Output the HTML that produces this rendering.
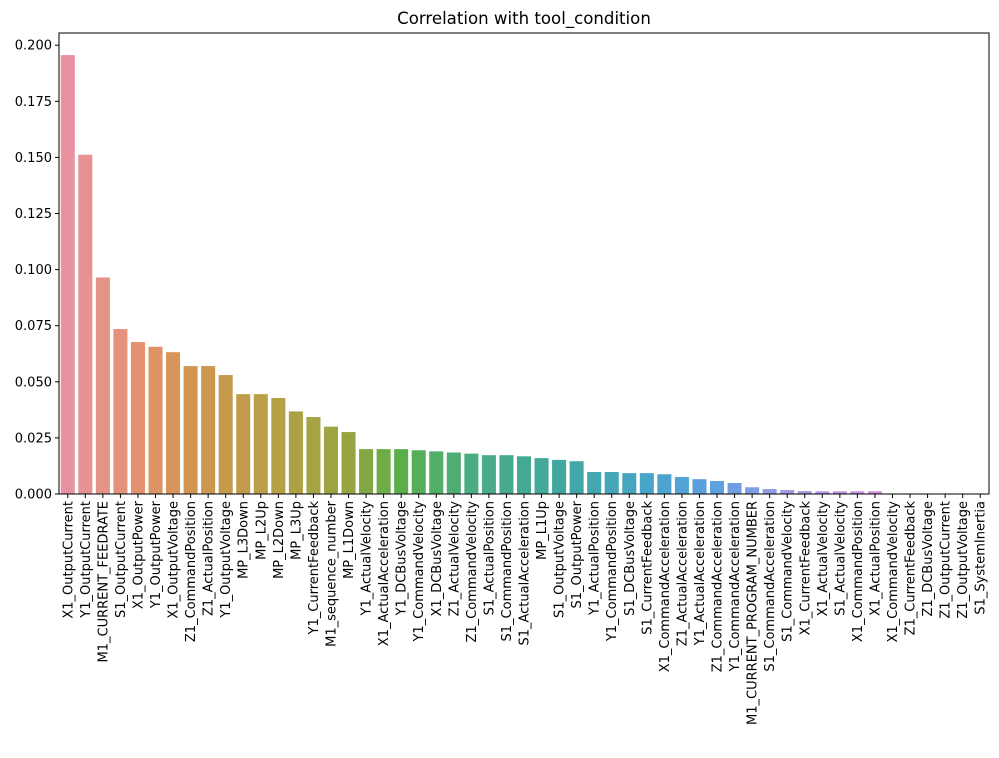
<!DOCTYPE html>
<html><head><meta charset="utf-8"><style>
body{margin:0;background:#fff}
svg text{font-family:"DejaVu Sans","Liberation Sans",sans-serif;fill:#000}
</style></head><body>
<svg id="chart" width="999" height="753" xmlns="http://www.w3.org/2000/svg">
<text x="524" y="24" font-size="16.6" text-anchor="middle">Correlation with tool_condition</text>
<g id="bars"></g><g id="yaxis"></g><g id="xaxis"></g>
<rect x="59" y="33" width="930" height="461" fill="none" stroke="#000" stroke-width="1"/>
</svg>
<script>
const categories=["X1_OutputCurrent","Y1_OutputCurrent","M1_CURRENT_FEEDRATE","S1_OutputCurrent","X1_OutputPower","Y1_OutputPower","X1_OutputVoltage","Z1_CommandPosition","Z1_ActualPosition","Y1_OutputVoltage","MP_L3Down","MP_L2Up","MP_L2Down","MP_L3Up","Y1_CurrentFeedback","M1_sequence_number","MP_L1Down","Y1_ActualVelocity","X1_ActualAcceleration","Y1_DCBusVoltage","Y1_CommandVelocity","X1_DCBusVoltage","Z1_ActualVelocity","Z1_CommandVelocity","S1_ActualPosition","S1_CommandPosition","S1_ActualAcceleration","MP_L1Up","S1_OutputVoltage","S1_OutputPower","Y1_ActualPosition","Y1_CommandPosition","S1_DCBusVoltage","S1_CurrentFeedback","X1_CommandAcceleration","Z1_ActualAcceleration","Y1_ActualAcceleration","Z1_CommandAcceleration","Y1_CommandAcceleration","M1_CURRENT_PROGRAM_NUMBER","S1_CommandAcceleration","S1_CommandVelocity","X1_CurrentFeedback","X1_ActualVelocity","S1_ActualVelocity","X1_CommandPosition","X1_ActualPosition","X1_CommandVelocity","Z1_CurrentFeedback","Z1_DCBusVoltage","Z1_OutputCurrent","Z1_OutputVoltage","S1_SystemInertia"];
const values=[0.1956,0.1512,0.0965,0.0735,0.0677,0.0656,0.0632,0.0570,0.0570,0.0530,0.0445,0.0445,0.0428,0.0368,0.0343,0.0300,0.0276,0.0200,0.0200,0.0200,0.0195,0.0190,0.0185,0.0180,0.0173,0.0173,0.0168,0.0160,0.0152,0.0146,0.0098,0.0098,0.0093,0.0093,0.0088,0.0076,0.0066,0.0058,0.0049,0.0030,0.0022,0.0018,0.0013,0.0012,0.0012,0.0012,0.0012,0.0002,0.0001,0.0001,0.0001,0.0000,0.0000];
const yTicks=[0,0.025,0.05,0.075,0.1,0.125,0.15,0.175,0.2];
const yTickLabels=["0.000","0.025","0.050","0.075","0.100","0.125","0.150","0.175","0.200"];
const stops=[[0,[232,145,160]],[4,[226,146,110]],[7,[210,150,80]],[12,[180,160,70]],[16,[150,165,65]],[19,[90,175,75]],[23,[75,172,130]],[28,[65,168,160]],[33,[70,165,200]],[37,[95,160,225]],[41,[160,155,228]],[46,[210,140,225]],[52,[232,140,200]]];
function color(i){for(let k=0;k<stops.length-1;k++){const a=stops[k],b=stops[k+1];if(i>=a[0]&&i<=b[0]){const t=(i-a[0])/(b[0]-a[0]);return 'rgb('+a[1].map((v,j)=>Math.round(v+(b[1][j]-v)*t)).join(',')+')';}}return 'rgb(232,140,200)';}
const L=59,R=989,T=33,B=494,NS='http://www.w3.org/2000/svg';
const step=(R-L)/categories.length;
const x=i=>L+step*(i+0.5);
const y=v=>B-v/0.025*56.1;
function mk(tag,attrs,parent){const e=document.createElementNS(NS,tag);for(const k in attrs)e.setAttribute(k,attrs[k]);parent.appendChild(e);return e;}
const gb=document.getElementById('bars'),gy=document.getElementById('yaxis'),gx=document.getElementById('xaxis');
values.forEach((v,i)=>{const bw=step*0.8;
const r=mk('rect',{x:x(i)-bw/2,y:y(v),width:bw,height:B-y(v),fill:color(i)},gb);

});
yTicks.forEach((t,i)=>{mk('line',{x1:L-4,x2:L,y1:y(t),y2:y(t),stroke:'#000'},gy);
const tx=mk('text',{x:L-7,y:y(t)+4.5,'font-size':13,'text-anchor':'end'},gy);tx.textContent=yTickLabels[i];

});
categories.forEach((c,i)=>{mk('line',{x1:x(i),x2:x(i),y1:B,y2:B+4,stroke:'#000'},gx);
const tx=mk('text',{transform:'translate('+(x(i)+4.5)+','+(B+7)+') rotate(-90)','font-size':13,'text-anchor':'end'},gx);tx.textContent=c;

});
</script>
</body></html>
